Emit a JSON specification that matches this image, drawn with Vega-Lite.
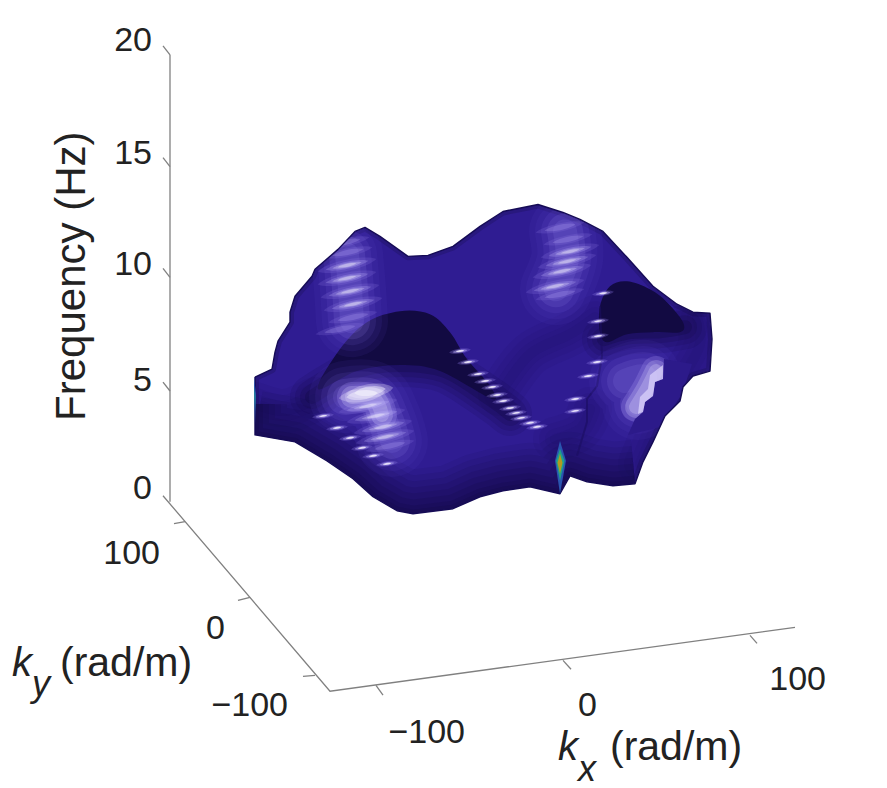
{
"$schema":"https://vega.github.io/schema/vega-lite/v6.json",
"width":887,"height":788,"padding":0,"background":"white",
"autosize":{"type":"fit","contains":"padding"},
"config":{"view":{"stroke":null}},
"datasets":{
"axes":[
{"s":"z","i":0,"h":170,"v":55},{"s":"z","i":1,"h":170,"v":503},
{"s":"yx","i":0,"h":163,"v":497},{"s":"yx","i":1,"h":330,"v":693},{"s":"yx","i":2,"h":795,"v":629},
{"s":"z0","i":0,"h":163,"v":46},{"s":"z0","i":1,"h":170,"v":55},
{"s":"z1","i":0,"h":163,"v":158},{"s":"z1","i":1,"h":170,"v":167},
{"s":"z2","i":0,"h":163,"v":269},{"s":"z2","i":1,"h":170,"v":278},
{"s":"z3","i":0,"h":163,"v":383},{"s":"z3","i":1,"h":170,"v":392},
{"s":"y0","i":0,"h":185,"v":523},{"s":"y0","i":1,"h":174,"v":525},
{"s":"y1","i":0,"h":250,"v":599},{"s":"y1","i":1,"h":238,"v":602},
{"s":"y2","i":0,"h":315,"v":677},{"s":"y2","i":1,"h":303,"v":678},
{"s":"x0","i":0,"h":376,"v":687},{"s":"x0","i":1,"h":383,"v":697},
{"s":"x1","i":0,"h":563,"v":662},{"s":"x1","i":1,"h":571,"v":671},
{"s":"x2","i":0,"h":750,"v":637},{"s":"x2","i":1,"h":757,"v":645}
],
"sil":[
{"i":0,"h":255,"v":378},{"i":1,"h":272,"v":370},{"i":2,"h":275,"v":353},{"i":3,"h":278,"v":342},{"i":4,"h":290,"v":323},{"i":5,"h":290,"v":313},{"i":6,"h":295,"v":297},{"i":7,"h":312,"v":277},{"i":8,"h":315,"v":270},{"i":9,"h":338,"v":250},{"i":10,"h":355,"v":232},{"i":11,"h":365,"v":228},{"i":12,"h":380,"v":237},{"i":13,"h":408,"v":257},{"i":14,"h":428,"v":256},{"i":15,"h":453,"v":247},{"i":16,"h":480,"v":227},{"i":17,"h":503,"v":212},{"i":18,"h":538,"v":205},{"i":19,"h":563,"v":213},{"i":20,"h":580,"v":220},{"i":21,"h":603,"v":232},{"i":22,"h":627,"v":258},{"i":23,"h":653,"v":287},{"i":24,"h":677,"v":305},{"i":25,"h":693,"v":313},{"i":26,"h":710,"v":314},{"i":27,"h":712,"v":340},{"i":28,"h":710,"v":372},{"i":29,"h":693,"v":377},{"i":30,"h":683,"v":388},{"i":31,"h":680,"v":402},{"i":32,"h":665,"v":417},{"i":33,"h":653,"v":443},{"i":34,"h":643,"v":463},{"i":35,"h":635,"v":485},{"i":36,"h":613,"v":487},{"i":37,"h":587,"v":483},{"i":38,"h":570,"v":477},{"i":39,"h":560,"v":495},{"i":40,"h":530,"v":488},{"i":41,"h":503,"v":492},{"i":42,"h":480,"v":498},{"i":43,"h":453,"v":510},{"i":44,"h":413,"v":515},{"i":45,"h":397,"v":512},{"i":46,"h":373,"v":498},{"i":47,"h":353,"v":480},{"i":48,"h":327,"v":462},{"i":49,"h":295,"v":443},{"i":50,"h":255,"v":436},{"i":51,"h":255,"v":378}
],
"mask":[
{"i":-6,"h":200,"v":378},{"i":-5,"h":200,"v":565},{"i":-4,"h":745,"v":565},{"i":-3,"h":745,"v":175},{"i":-2,"h":200,"v":175},{"i":-1,"h":200,"v":378},
{"i":0,"h":255,"v":378},{"i":1,"h":272,"v":370},{"i":2,"h":275,"v":353},{"i":3,"h":278,"v":342},{"i":4,"h":290,"v":323},{"i":5,"h":290,"v":313},{"i":6,"h":295,"v":297},{"i":7,"h":312,"v":277},{"i":8,"h":315,"v":270},{"i":9,"h":338,"v":250},{"i":10,"h":355,"v":232},{"i":11,"h":365,"v":228},{"i":12,"h":380,"v":237},{"i":13,"h":408,"v":257},{"i":14,"h":428,"v":256},{"i":15,"h":453,"v":247},{"i":16,"h":480,"v":227},{"i":17,"h":503,"v":212},{"i":18,"h":538,"v":205},{"i":19,"h":563,"v":213},{"i":20,"h":580,"v":220},{"i":21,"h":603,"v":232},{"i":22,"h":627,"v":258},{"i":23,"h":653,"v":287},{"i":24,"h":677,"v":305},{"i":25,"h":693,"v":313},{"i":26,"h":710,"v":314},{"i":27,"h":712,"v":340},{"i":28,"h":710,"v":372},{"i":29,"h":693,"v":377},{"i":30,"h":683,"v":388},{"i":31,"h":680,"v":402},{"i":32,"h":665,"v":417},{"i":33,"h":653,"v":443},{"i":34,"h":643,"v":463},{"i":35,"h":635,"v":485},{"i":36,"h":613,"v":487},{"i":37,"h":587,"v":483},{"i":38,"h":570,"v":477},{"i":39,"h":560,"v":495},{"i":40,"h":530,"v":488},{"i":41,"h":503,"v":492},{"i":42,"h":480,"v":498},{"i":43,"h":453,"v":510},{"i":44,"h":413,"v":515},{"i":45,"h":397,"v":512},{"i":46,"h":373,"v":498},{"i":47,"h":353,"v":480},{"i":48,"h":327,"v":462},{"i":49,"h":295,"v":443},{"i":50,"h":255,"v":436},{"i":51,"h":255,"v":378}
],
"edge":[
{"s":"a","i":0,"h":255,"v":405},{"s":"a","i":1,"h":255,"v":436},{"s":"a","i":2,"h":295,"v":443},{"s":"a","i":3,"h":327,"v":462},{"s":"a","i":4,"h":353,"v":480},{"s":"a","i":5,"h":373,"v":498},{"s":"a","i":6,"h":397,"v":512},{"s":"a","i":7,"h":413,"v":515},{"s":"a","i":8,"h":453,"v":510},{"s":"a","i":9,"h":480,"v":498},{"s":"a","i":10,"h":503,"v":492},{"s":"a","i":11,"h":530,"v":488},{"s":"a","i":12,"h":560,"v":495},{"s":"a","i":13,"h":570,"v":477},{"s":"a","i":14,"h":587,"v":483},{"s":"a","i":15,"h":613,"v":487},{"s":"a","i":16,"h":635,"v":485}
],
"fold":[
{"s":"rs","i":0,"h":697,"v":318},{"s":"rs","i":1,"h":700,"v":345},{"s":"rs","i":2,"h":685,"v":375},{"s":"rs","i":3,"h":670,"v":405},{"s":"rs","i":4,"h":655,"v":430},{"s":"rs","i":5,"h":640,"v":465},
{"s":"ml","i":0,"h":500,"v":395},{"s":"ml","i":1,"h":530,"v":355},{"s":"ml","i":2,"h":570,"v":335},{"s":"ml","i":3,"h":595,"v":318},
{"s":"lc","i":0,"h":255,"v":405},{"s":"lc","i":1,"h":285,"v":412},{"s":"lc","i":2,"h":315,"v":400},
{"s":"rc","i":0,"h":555,"v":440},{"s":"rc","i":1,"h":580,"v":430},{"s":"rc","i":2,"h":590,"v":410}
],
"hollowSoft":[
{"s":"l","i":0,"h":312,"v":398},{"s":"l","i":1,"h":358,"v":372},{"s":"l","i":2,"h":400,"v":366},{"s":"l","i":3,"h":445,"v":372},{"s":"l","i":4,"h":490,"v":400},{"s":"l","i":5,"h":510,"v":415},
{"s":"r","i":0,"h":604,"v":340},{"s":"r","i":1,"h":630,"v":333},{"s":"r","i":2,"h":660,"v":332},{"s":"r","i":3,"h":685,"v":328}
],
"hollow":[
{"s":"hl","i":0,"h":318,"v":390},{"s":"hl","i":1,"h":340,"v":350},{"s":"hl","i":2,"h":367,"v":323},{"s":"hl","i":3,"h":400,"v":312},{"s":"hl","i":4,"h":430,"v":315},{"s":"hl","i":5,"h":450,"v":333},{"s":"hl","i":6,"h":467,"v":360},{"s":"hl","i":7,"h":490,"v":387},{"s":"hl","i":8,"h":492,"v":400},{"s":"hl","i":9,"h":440,"v":372},{"s":"hl","i":10,"h":400,"v":366},{"s":"hl","i":11,"h":357,"v":372},
{"s":"hr","i":0,"h":600,"v":307},{"s":"hr","i":1,"h":610,"v":287},{"s":"hr","i":2,"h":627,"v":282},{"s":"hr","i":3,"h":650,"v":290},{"s":"hr","i":4,"h":667,"v":303},{"s":"hr","i":5,"h":683,"v":323},{"s":"hr","i":6,"h":680,"v":333},{"s":"hr","i":7,"h":653,"v":333},{"s":"hr","i":8,"h":627,"v":335},{"s":"hr","i":9,"h":607,"v":343},{"s":"hr","i":10,"h":600,"v":333}
],
"crease":[
{"i":0,"h":600,"v":307},{"i":1,"h":602,"v":357},{"i":2,"h":597,"v":387},{"i":3,"h":587,"v":400},{"i":4,"h":587,"v":423},{"i":5,"h":577,"v":457}
],
"glow":[
{"s":"ll","i":0,"h":345,"v":398},{"s":"ll","i":1,"h":372,"v":398},{"s":"ll","i":2,"h":385,"v":420},{"s":"ll","i":3,"h":392,"v":442},
{"s":"ul","i":0,"h":347,"v":255},{"s":"ul","i":1,"h":350,"v":290},{"s":"ul","i":2,"h":352,"v":322},
{"s":"ur","i":0,"h":565,"v":232},{"s":"ur","i":1,"h":567,"v":260},{"s":"ur","i":2,"h":556,"v":290},
{"s":"rr","i":0,"h":625,"v":382},{"s":"rr","i":1,"h":645,"v":378},{"s":"rr","i":2,"h":638,"v":405}
],
"core":[
{"s":"ll","i":0,"h":352,"v":398},{"s":"ll","i":1,"h":374,"v":400},{"s":"ll","i":2,"h":382,"v":416},
{"s":"rr","i":0,"h":656,"v":372},{"s":"rr","i":1,"h":647,"v":390},{"s":"rr","i":2,"h":636,"v":408}
],
"cover":[
{"i":0,"h":664,"v":360},{"i":1,"h":663,"v":380},{"i":2,"h":655,"v":383},{"i":3,"h":653,"v":397},{"i":4,"h":645,"v":403},{"i":5,"h":643,"v":413},{"i":6,"h":635,"v":420},{"i":7,"h":628,"v":436},{"i":8,"h":660,"v":428},{"i":9,"h":682,"v":395},{"i":10,"h":692,"v":365}
],
"stair":[
{"i":0,"h":663,"v":366},{"i":1,"h":663,"v":380},{"i":2,"h":655,"v":383},{"i":3,"h":653,"v":397},{"i":4,"h":645,"v":403},{"i":5,"h":643,"v":413},{"i":6,"h":638,"v":415},{"i":7,"h":640,"v":398},{"i":8,"h":648,"v":390},{"i":9,"h":650,"v":376}
],
"bright":[{"h":362,"v":396},{"h":370,"v":392}],
"strong":[
{"h":347,"v":266},{"h":347,"v":279},{"h":350,"v":292},{"h":353,"v":305},
{"h":570,"v":252},{"h":567,"v":262},{"h":562,"v":272},{"h":555,"v":287},
{"h":368,"v":407},{"h":376,"v":417},{"h":383,"v":428},{"h":385,"v":438}
],
"weak":[
{"h":348,"v":253},{"h":353,"v":318},{"h":340,"v":330},{"h":345,"v":243},
{"h":560,"v":228},{"h":568,"v":240},{"h":560,"v":295},
{"h":390,"v":447}
],
"dots":[
{"h":460,"v":352},{"h":468,"v":363},{"h":478,"v":375},{"h":485,"v":382},{"h":492,"v":388},{"h":497,"v":396},{"h":503,"v":402},{"h":510,"v":409},{"h":516,"v":414},{"h":521,"v":419},{"h":530,"v":424},{"h":537,"v":428},
{"h":323,"v":417},{"h":337,"v":429},{"h":350,"v":439},{"h":362,"v":449},{"h":373,"v":457},{"h":387,"v":465},
{"h":598,"v":322},{"h":598,"v":337},{"h":597,"v":363},{"h":588,"v":377},{"h":575,"v":412},{"h":575,"v":400},{"h":603,"v":294}
],
"spotA":[{"s":"m","i":0,"h":560,"v":442},{"s":"m","i":1,"h":566,"v":462},{"s":"m","i":2,"h":560,"v":495},{"s":"m","i":3,"h":555,"v":462},{"s":"l","i":0,"h":254,"v":378},{"s":"l","i":1,"h":256,"v":395},{"s":"l","i":2,"h":255,"v":425},{"s":"l","i":3,"h":254,"v":395}],
"spotB":[{"s":"m","i":0,"h":560,"v":450},{"s":"m","i":1,"h":564.5,"v":462},{"s":"m","i":2,"h":560,"v":482},{"s":"m","i":3,"h":556,"v":462},{"s":"l","i":0,"h":254.5,"v":388},{"s":"l","i":1,"h":255.5,"v":398},{"s":"l","i":2,"h":255,"v":412},{"s":"l","i":3,"h":254.5,"v":398}],
"spotC":[{"s":"m","i":0,"h":560,"v":455},{"s":"m","i":1,"h":562.5,"v":464},{"s":"m","i":2,"h":560,"v":475},{"s":"m","i":3,"h":557.5,"v":464}],
"ticksR":[
{"t":"20","h":152,"v":51},{"t":"15","h":152,"v":164},{"t":"10","h":152,"v":276},{"t":"5","h":152,"v":392},{"t":"0","h":152,"v":500},
{"t":"100","h":160,"v":565},{"t":"0","h":225,"v":641},{"t":"−100","h":288,"v":718},
{"t":"−100","h":465,"v":745},{"t":"0","h":597,"v":718},{"t":"100","h":826,"v":692}
],
"labels":[{"t":"(rad/m)","h":60,"v":678},{"t":"(rad/m)","h":610,"v":762}],
"ital":[{"t":"k","h":12,"v":678},{"t":"k","h":558,"v":762}],
"sub":[{"t":"y","h":32,"v":698},{"t":"x","h":578,"v":783}],
"freq":[{"t":"Frequency (Hz)","h":85,"v":422}]
},
"encoding":{
"x":{"field":"h","type":"quantitative","scale":{"domain":[0,887],"nice":false,"zero":false},"axis":null},
"y":{"field":"v","type":"quantitative","scale":{"domain":[788,0],"nice":false,"zero":false},"axis":null},
"order":{"field":"i"}
},
"layer":[
{"data":{"name":"sil"},"mark":{"type":"line","fill":"#2f1c92","stroke":null}},
{"data":{"name":"fold"},"mark":{"type":"line","stroke":"#150b55","strokeWidth":44,"opacity":0.08,"strokeCap":"round","strokeJoin":"round","interpolate":"cardinal"},"encoding":{"detail":{"field":"s"}}},
{"data":{"name":"fold"},"mark":{"type":"line","stroke":"#150b55","strokeWidth":32,"opacity":0.08,"strokeCap":"round","strokeJoin":"round","interpolate":"cardinal"},"encoding":{"detail":{"field":"s"}}},
{"data":{"name":"fold"},"mark":{"type":"line","stroke":"#150b55","strokeWidth":20,"opacity":0.08,"strokeCap":"round","strokeJoin":"round","interpolate":"cardinal"},"encoding":{"detail":{"field":"s"}}},
{"data":{"name":"fold"},"mark":{"type":"line","stroke":"#150b55","strokeWidth":10,"opacity":0.08,"strokeCap":"round","strokeJoin":"round","interpolate":"cardinal"},"encoding":{"detail":{"field":"s"}}},
{"data":{"name":"edge"},"mark":{"type":"line","stroke":"#120a45","strokeWidth":88,"opacity":0.08,"strokeJoin":"round"},"encoding":{"detail":{"field":"s"}}},
{"data":{"name":"edge"},"mark":{"type":"line","stroke":"#120a45","strokeWidth":76,"opacity":0.1,"strokeJoin":"round"},"encoding":{"detail":{"field":"s"}}},
{"data":{"name":"edge"},"mark":{"type":"line","stroke":"#120a45","strokeWidth":64,"opacity":0.12,"strokeJoin":"round"},"encoding":{"detail":{"field":"s"}}},
{"data":{"name":"edge"},"mark":{"type":"line","stroke":"#120a45","strokeWidth":52,"opacity":0.14,"strokeJoin":"round"},"encoding":{"detail":{"field":"s"}}},
{"data":{"name":"edge"},"mark":{"type":"line","stroke":"#120a45","strokeWidth":40,"opacity":0.16,"strokeJoin":"round"},"encoding":{"detail":{"field":"s"}}},
{"data":{"name":"edge"},"mark":{"type":"line","stroke":"#120a45","strokeWidth":28,"opacity":0.18,"strokeJoin":"round"},"encoding":{"detail":{"field":"s"}}},
{"data":{"name":"edge"},"mark":{"type":"line","stroke":"#120a45","strokeWidth":16,"opacity":0.22,"strokeJoin":"round"},"encoding":{"detail":{"field":"s"}}},
{"data":{"name":"sil"},"mark":{"type":"line","stroke":"#120a45","strokeWidth":8,"opacity":0.25,"strokeJoin":"round"}},
{"data":{"name":"hollowSoft"},"mark":{"type":"line","stroke":"#120a42","strokeWidth":44,"opacity":0.12,"strokeCap":"round","interpolate":"cardinal"},"encoding":{"detail":{"field":"s"}}},
{"data":{"name":"hollowSoft"},"mark":{"type":"line","stroke":"#120a42","strokeWidth":34,"opacity":0.15,"strokeCap":"round","interpolate":"cardinal"},"encoding":{"detail":{"field":"s"}}},
{"data":{"name":"hollowSoft"},"mark":{"type":"line","stroke":"#120a42","strokeWidth":24,"opacity":0.2,"strokeCap":"round","interpolate":"cardinal"},"encoding":{"detail":{"field":"s"}}},
{"data":{"name":"hollowSoft"},"mark":{"type":"line","stroke":"#120a42","strokeWidth":14,"opacity":0.3,"strokeCap":"round","interpolate":"cardinal"},"encoding":{"detail":{"field":"s"}}},
{"data":{"name":"hollow"},"mark":{"type":"line","fill":"#120a42","stroke":null,"interpolate":"cardinal-closed"},"encoding":{"detail":{"field":"s"}}},
{"data":{"name":"crease"},"mark":{"type":"line","stroke":"#1a0d60","strokeWidth":2,"opacity":0.6}},
{"data":{"name":"glow"},"mark":{"type":"line","stroke":"#5a45c4","strokeWidth":72,"opacity":0.1,"strokeCap":"round","strokeJoin":"round","interpolate":"cardinal"},"encoding":{"detail":{"field":"s"}}},
{"data":{"name":"glow"},"mark":{"type":"line","stroke":"#5a45c4","strokeWidth":60,"opacity":0.12,"strokeCap":"round","strokeJoin":"round","interpolate":"cardinal"},"encoding":{"detail":{"field":"s"}}},
{"data":{"name":"glow"},"mark":{"type":"line","stroke":"#6f5bd6","strokeWidth":48,"opacity":0.14,"strokeCap":"round","strokeJoin":"round","interpolate":"cardinal"},"encoding":{"detail":{"field":"s"}}},
{"data":{"name":"glow"},"mark":{"type":"line","stroke":"#8f7ce8","strokeWidth":36,"opacity":0.16,"strokeCap":"round","strokeJoin":"round","interpolate":"cardinal"},"encoding":{"detail":{"field":"s"}}},
{"data":{"name":"glow"},"mark":{"type":"line","stroke":"#8f7ce8","strokeWidth":24,"opacity":0.16,"strokeCap":"round","strokeJoin":"round","interpolate":"cardinal"},"encoding":{"detail":{"field":"s"}}},
{"data":{"name":"core"},"mark":{"type":"line","stroke":"#b5a5ff","strokeWidth":30,"opacity":0.22,"strokeCap":"round","strokeJoin":"round","interpolate":"cardinal"},"encoding":{"detail":{"field":"s"}}},
{"data":{"name":"core"},"mark":{"type":"line","stroke":"#d9cfff","strokeWidth":22,"opacity":0.25,"strokeCap":"round","strokeJoin":"round","interpolate":"cardinal"},"encoding":{"detail":{"field":"s"}}},
{"data":{"name":"core"},"mark":{"type":"line","stroke":"#e6deff","strokeWidth":14,"opacity":0.25,"strokeCap":"round","strokeJoin":"round","interpolate":"cardinal"},"encoding":{"detail":{"field":"s"}}},
{"data":{"name":"cover"},"mark":{"type":"line","fill":"#2c1a8a","stroke":null}},
{"data":{"name":"stair"},"mark":{"type":"line","fill":"#e4dcff","stroke":null,"opacity":0.65}},
{"data":{"name":"weak"},"mark":{"type":"point","shape":"M-1,0C-0.6,-0.22 0.6,-0.22 1,0C0.6,0.22 -0.6,0.22 -1,0Z","filled":true,"color":"#8f7ce8","opacity":0.2,"size":2500,"angle":-12}},
{"data":{"name":"weak"},"mark":{"type":"point","shape":"M-1,0C-0.6,-0.22 0.6,-0.22 1,0C0.6,0.22 -0.6,0.22 -1,0Z","filled":true,"color":"#c4b6ff","opacity":0.22,"size":1000,"angle":-12}},
{"data":{"name":"strong"},"mark":{"type":"point","shape":"M-1,0C-0.6,-0.25 0.6,-0.25 1,0C0.6,0.25 -0.6,0.25 -1,0Z","filled":true,"color":"#8f7ce8","opacity":0.2,"size":3600,"angle":-12}},
{"data":{"name":"strong"},"mark":{"type":"point","shape":"M-1,0C-0.6,-0.22 0.6,-0.22 1,0C0.6,0.22 -0.6,0.22 -1,0Z","filled":true,"color":"#c4b6ff","opacity":0.25,"size":1900,"angle":-12}},
{"data":{"name":"strong"},"mark":{"type":"point","shape":"M-1,0C-0.6,-0.2 0.6,-0.2 1,0C0.6,0.2 -0.6,0.2 -1,0Z","filled":true,"color":"#e5ddff","opacity":0.3,"size":900,"angle":-12}},
{"data":{"name":"strong"},"mark":{"type":"point","shape":"M-1,0C-0.6,-0.2 0.6,-0.2 1,0C0.6,0.2 -0.6,0.2 -1,0Z","filled":true,"color":"#ffffff","opacity":0.35,"size":350,"angle":-12}},
{"data":{"name":"bright"},"mark":{"type":"point","shape":"M-1,0C-0.6,-0.4 0.6,-0.4 1,0C0.6,0.4 -0.6,0.4 -1,0Z","filled":true,"color":"#efe9ff","opacity":0.3,"size":2200,"angle":-8}},
{"data":{"name":"bright"},"mark":{"type":"point","shape":"M-1,0C-0.6,-0.4 0.6,-0.4 1,0C0.6,0.4 -0.6,0.4 -1,0Z","filled":true,"color":"#ffffff","opacity":0.4,"size":1000,"angle":-8}},
{"data":{"name":"dots"},"mark":{"type":"point","shape":"M-1,0C-0.6,-0.3 0.6,-0.3 1,0C0.6,0.3 -0.6,0.3 -1,0Z","filled":true,"color":"#8f7ce8","opacity":0.3,"size":480,"angle":-8}},
{"data":{"name":"dots"},"mark":{"type":"point","shape":"M-1,0C-0.6,-0.3 0.6,-0.3 1,0C0.6,0.3 -0.6,0.3 -1,0Z","filled":true,"color":"#c4b6ff","opacity":0.45,"size":220,"angle":-8}},
{"data":{"name":"dots"},"mark":{"type":"point","shape":"M-1,0C-0.6,-0.3 0.6,-0.3 1,0C0.6,0.3 -0.6,0.3 -1,0Z","filled":true,"color":"#f4f0ff","opacity":0.85,"size":70,"angle":-8}},
{"data":{"name":"mask"},"mark":{"type":"line","fill":"white","stroke":null}},
{"data":{"name":"sil"},"mark":{"type":"line","stroke":"#150b55","strokeWidth":1.4,"strokeJoin":"round"}},
{"data":{"name":"spotA"},"mark":{"type":"line","fill":"#2a55b0","stroke":null},"encoding":{"detail":{"field":"s"}}},
{"data":{"name":"spotB"},"mark":{"type":"line","fill":"#1fa08c","stroke":null},"encoding":{"detail":{"field":"s"}}},
{"data":{"name":"spotC"},"mark":{"type":"line","fill":"#b29a20","stroke":null},"encoding":{"detail":{"field":"s"}}},
{"data":{"name":"axes"},"mark":{"type":"line","stroke":"#808080","strokeWidth":1.3},"encoding":{"detail":{"field":"s"}}},
{"data":{"name":"ticksR"},"mark":{"type":"text","font":"Liberation Sans","fontSize":34,"align":"right","baseline":"alphabetic","color":"#222222"},"encoding":{"text":{"field":"t"},"order":null}},
{"data":{"name":"labels"},"mark":{"type":"text","font":"Liberation Sans","fontSize":41,"align":"left","baseline":"alphabetic","color":"#222222"},"encoding":{"text":{"field":"t"},"order":null}},
{"data":{"name":"ital"},"mark":{"type":"text","font":"Liberation Sans","fontStyle":"italic","fontSize":40,"align":"left","baseline":"alphabetic","color":"#222222"},"encoding":{"text":{"field":"t"},"order":null}},
{"data":{"name":"sub"},"mark":{"type":"text","font":"Liberation Sans","fontStyle":"italic","fontSize":36,"align":"left","baseline":"alphabetic","color":"#222222"},"encoding":{"text":{"field":"t"},"order":null}},
{"data":{"name":"freq"},"mark":{"type":"text","font":"Liberation Sans","fontSize":42,"align":"left","baseline":"alphabetic","angle":270,"color":"#222222"},"encoding":{"text":{"field":"t"},"order":null}}
]
}
